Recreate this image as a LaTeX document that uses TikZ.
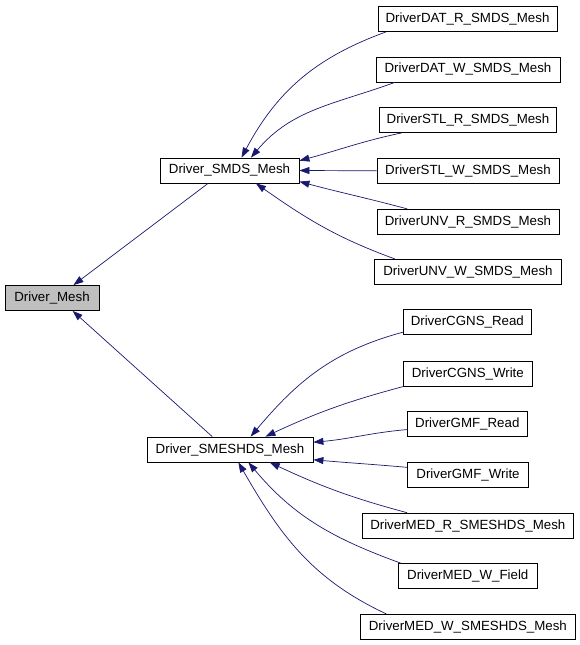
\documentclass[tikz,border=0pt]{standalone}
\usepackage{fontspec}
\setmainfont{Liberation Sans}
\usetikzlibrary{arrows.meta}
\definecolor{edgeblue}{RGB}{25,25,112}
\definecolor{basegray}{RGB}{191,191,191}

\begin{document}
\begin{tikzpicture}[x=1pt,y=1pt,
    every node/.style={draw,rectangle,minimum height=25,inner sep=0,line width=0.8pt,font=\fontsize{13.3}{15}\selectfont},
    inherit/.style={draw=edgeblue,line width=0.7pt,-{Triangle[length=10pt,width=7pt]}}]
        \useasboundingbox (0,0) rectangle (580,-645);
        \node[minimum width=94,fill=basegray] (mesh) at (52,-298) {Driver\_Mesh};
        \node[minimum width=139] (smds) at (229.5,-170.5) {Driver\_SMDS\_Mesh};
        \node[minimum width=166] (smeshds) at (230,-449.5) {Driver\_SMESHDS\_Mesh};
        \node[minimum width=179] (datR) at (467.5,-19) {DriverDAT\_R\_SMDS\_Mesh};
        \node[minimum width=184] (datW) at (468,-69.5) {DriverDAT\_W\_SMDS\_Mesh};
        \node[minimum width=177] (stlR) at (468,-120) {DriverSTL\_R\_SMDS\_Mesh};
        \node[minimum width=182] (stlW) at (468,-170.8) {DriverSTL\_W\_SMDS\_Mesh};
        \node[minimum width=182] (unvR) at (468,-221.8) {DriverUNV\_R\_SMDS\_Mesh};
        \node[minimum width=187] (unvW) at (468,-271.8) {DriverUNV\_W\_SMDS\_Mesh};
        \node[minimum width=128] (cgnsR) at (467.3,-322) {DriverCGNS\_Read};
        \node[minimum width=129] (cgnsW) at (467.8,-374) {DriverCGNS\_Write};
        \node[minimum width=120] (gmfR) at (467.3,-424.3) {DriverGMF\_Read};
        \node[minimum width=121] (gmfW) at (468,-474.8) {DriverGMF\_Write};
        \node[minimum width=211] (medR) at (467.8,-525.6) {DriverMED\_R\_SMESHDS\_Mesh};
        \node[minimum width=139] (medWF) at (467.8,-576.3) {DriverMED\_W\_Field};
        \node[minimum width=215] (medWS) at (467.8,-626.8) {DriverMED\_W\_SMESHDS\_Mesh};
        \draw[inherit] (smds.211) -- (mesh.31);
        \draw[inherit] (smeshds.144) -- (mesh.-32);
        \draw[inherit] (datR.189) to[out=200,in=62] (smds.47);
        \draw[inherit] (datW.190) to[out=200,in=50] (smds.31);
        \draw[inherit] (stlR.191) to[out=192,in=15] (smds.8);
        \draw[inherit] (stlW.west) -- (smds.east);
        \draw[inherit] (unvR.168.5) to[out=165,in=-15] (smds.-9);
        \draw[inherit] (unvW.170) to[out=160,in=-35] (smds.-26);
        \draw[inherit] (cgnsR.189.7) to[out=195,in=50] (smeshds.32);
        \draw[inherit] (cgnsW.191.3) to[out=195,in=25] (smeshds.20);
        \draw[inherit] (gmfR.185.4) to[out=185,in=5] (smeshds.5.2);
        \draw[inherit] (gmfW.173.5) to[out=175,in=-5] (smeshds.-7.2);
        \draw[inherit] (medR.168.4) to[out=165,in=-25] (smeshds.-18);
        \draw[inherit] (medWF.169.8) to[out=160,in=-50] (smeshds.-35);
        \draw[inherit] (medWS.171.2) to[out=155,in=-60] (smeshds.-57);
      \end{tikzpicture}
\end{document}
